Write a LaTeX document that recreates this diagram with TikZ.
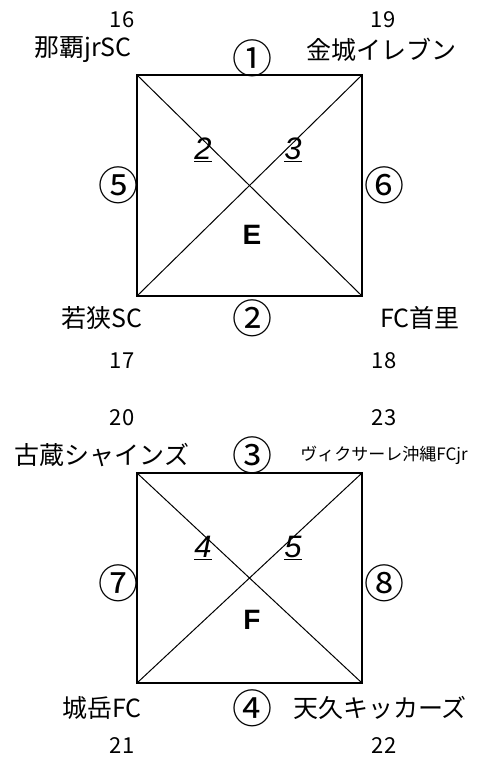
\documentclass[tikz,border=0pt]{standalone}
\usepackage{fontspec}
\setmainfont{Noto Sans CJK JP}
\newfontfamily\latinfont{Liberation Sans}
\usetikzlibrary{positioning}
\usetikzlibrary{calc}

\begin{document}
\begin{tikzpicture}[x=1pt,y=-1pt,
      team/.style={font=\fontsize{25}{27}\selectfont,inner sep=0pt},
      smallteam/.style={font=\fontsize{17}{19}\selectfont,inner sep=0pt},
      seed/.style={font=\fontsize{22}{24}\selectfont,inner sep=0pt,anchor=base},
      match/.style={font=\fontsize{40}{42}\selectfont,inner sep=0pt},
      cross/.style={font=\latinfont\itshape\fontsize{31}{33}\selectfont,inner sep=0pt},
      group/.style={font=\latinfont\bfseries\fontsize{28}{30}\selectfont,inner sep=0pt},
      side/.style={line width=1.3pt},
      diag/.style={line width=1pt}]
      \useasboundingbox (0,0) rectangle (477,757);

      % Group E
      \coordinate (enw) at (137,75);
      \coordinate (ene) at (362,75);
      \coordinate (esw) at (137,296);
      \coordinate (ese) at (362,296);
      \draw[side] (enw) -- (ene) -- (ese) -- (esw) -- cycle;
      \draw[diag] (enw) -- (ese) (ene) -- (esw);

      \node[seed] (s16) at (122,28) {16};
      \node[seed] (s19) at (383,28) {19};
      \node[team] (naha) at (83,50) {那覇jrSC};
      \node[team] (kinjo) at (381,50) {金城イレブン};
      \node[match] (m1) at (252,58) {①};
      \node[cross] (m2) at (203,150) {\underline{2}};
      \node[cross] (m3) at (293,150) {\underline{3}};
      \node[match] (m5) at (118,185) {⑤};
      \node[match] (m6) at (384,185) {⑥};
      \node[group] (grE) at (252,235) {E};
      \node[team] (wakasa) at (102,318) {若狭SC};
      \node[match] (m2b) at (252,318) {②};
      \node[team] (shuri) at (420,318) {FC首里};
      \node[seed] (s17) at (122,368) {17};
      \node[seed] (s18) at (384,368) {18};

      % Group F
      \coordinate (fnw) at (137,473);
      \coordinate (fne) at (362,473);
      \coordinate (fsw) at (137,683);
      \coordinate (fse) at (362,683);
      \draw[side] (fnw) -- (fne) -- (fse) -- (fsw) -- cycle;
      \draw[diag] (fnw) -- (fse) (fne) -- (fsw);

      \node[seed] (s20) at (122,425) {20};
      \node[seed] (s23) at (384,425) {23};
      \node[team] (furujima) at (102,455) {古蔵シャインズ};
      \node[match] (m3b) at (252,455) {③};
      \node[smallteam] (vixa) at (384,455) {ヴィクサーレ沖縄FCjr};
      \node[cross] (m4) at (203,548) {\underline{4}};
      \node[cross] (m5b) at (293,548) {\underline{5}};
      \node[match] (m7) at (118,583) {⑦};
      \node[match] (m8) at (384,583) {⑧};
      \node[group] (grF) at (252,620) {F};
      \node[team] (jogaku) at (102,708) {城岳FC};
      \node[match] (m4b) at (252,708) {④};
      \node[team] (ameku) at (380,708) {天久キッカーズ};
      \node[seed] (s21) at (122,753) {21};
      \node[seed] (s22) at (384,753) {22};

    \end{tikzpicture}
\end{document}
